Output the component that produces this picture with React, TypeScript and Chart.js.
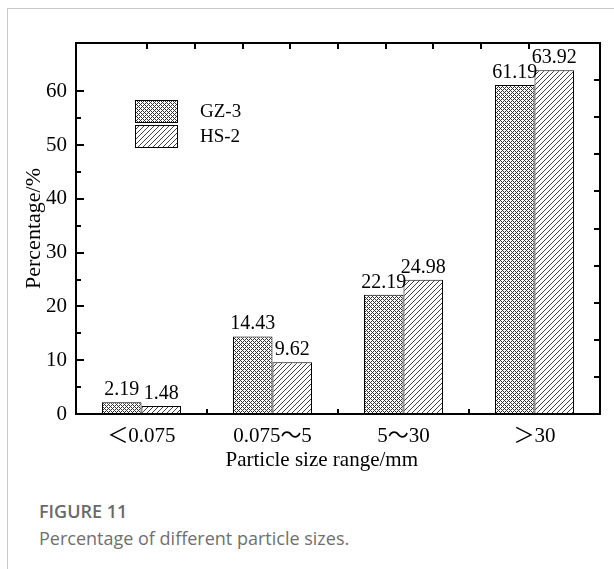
import React, { useEffect, useRef } from 'react';
import { Chart, registerables } from 'chart.js';

Chart.register(...registerables);

const categories = ['＜0.075', '0.075～5', '5～30', '＞30'];
const seriesNames = ['GZ-3', 'HS-2'];
const gz3Values = [2.19, 14.43, 22.19, 61.19];
const hs2Values = [1.48, 9.62, 24.98, 63.92];
const yMin = 0;
const yMax = 69;
const yMinorStep = 5;
const yMajorStep = 10;
const yTitle = 'Percentage/%';
const xTitle = 'Particle size range/mm';
const figureLabel = 'FIGURE 11';
const figureCaption = 'Percentage of different particle sizes.';

const SERIF = '"Liberation Serif", "Times New Roman", "Noto Sans CJK SC", serif';

function makePattern(kind: 'cross' | 'diag'): CanvasPattern | string {
  const size = kind === 'cross' ? 4 : 5;
  const c = document.createElement('canvas');
  c.width = size;
  c.height = size;
  const ctx = c.getContext('2d');
  if (!ctx) return '#888';
  ctx.fillStyle = '#ffffff';
  ctx.fillRect(0, 0, size, size);
  ctx.fillStyle = kind === 'cross' ? '#333333' : '#404040';
  for (let x = 0; x < size; x++) {
    for (let y = 0; y < size; y++) {
      let on = false;
      if (kind === 'cross') {
        on = (x + y) % size === 0 || (x - y + size) % size === 0;
      } else {
        on = (x + y) % size === size - 1;
      }
      if (on) ctx.fillRect(x, y, 1, 1);
    }
  }
  const p = ctx.createPattern(c, 'repeat');
  return p || '#888';
}

const decorPlugin = {
  id: 'decor',
  afterDatasetsDraw(chart: any) {
    const { ctx, chartArea: a, scales } = chart;
    ctx.save();
    ctx.strokeStyle = '#000';
    ctx.lineWidth = 2;
    const line = (x1: number, y1: number, x2: number, y2: number) => {
      ctx.beginPath();
      ctx.moveTo(x1, y1);
      ctx.lineTo(x2, y2);
      ctx.stroke();
    };
    // frame
    ctx.strokeRect(a.left, a.top, a.right - a.left, a.bottom - a.top);
    // left axis ticks (inward)
    const y = scales.y;
    y.ticks.forEach((t: any) => {
      const v = t.value;
      if (v % yMinorStep !== 0 || v === yMin) return;
      const py = Math.round(y.getPixelForValue(v));
      const len = v % yMajorStep === 0 ? 8 : 5;
      line(a.left, py, a.left + len, py);
    });
    // top axis ticks
    const x2 = scales.x2;
    x2.ticks.forEach((t: any) => {
      if (t.value <= x2.min || t.value >= x2.max) return;
      const px = Math.round(x2.getPixelForValue(t.value));
      line(px, a.top, px, a.top + 6);
    });
    // right axis ticks
    const y2 = scales.y2;
    y2.ticks.forEach((t: any) => {
      if (t.value <= y2.min || t.value >= y2.max) return;
      const py = Math.round(y2.getPixelForValue(t.value));
      line(a.right, py, a.right - 6, py);
    });
    // bottom category boundary ticks
    const x = scales.x;
    for (let i = 0; i < categories.length - 1; i++) {
      const px = Math.round((x.getPixelForValue(i) + x.getPixelForValue(i + 1)) / 2);
      line(px, a.bottom, px, a.bottom - 5);
    }
    // value labels
    ctx.fillStyle = '#000';
    ctx.font = '20px ' + SERIF;
    ctx.textAlign = 'center';
    ctx.textBaseline = 'alphabetic';
    chart.data.datasets.forEach((ds: any, di: number) => {
      const meta = chart.getDatasetMeta(di);
      meta.data.forEach((el: any, i: number) => {
        ctx.fillText(Number(ds.data[i]).toFixed(2), el.x, el.y - 7);
      });
    });
    // legend
    ctx.font = '19px ' + SERIF;
    ctx.lineWidth = 1;
    chart.data.datasets.forEach((ds: any, di: number) => {
      const bx = a.left + 59;
      const by = a.top + 57 + di * 25;
      ctx.fillStyle = ds.backgroundColor;
      ctx.fillRect(bx, by, 42, 22);
      ctx.strokeStyle = '#000';
      ctx.strokeRect(bx + 0.5, by + 0.5, 42, 22);
      ctx.fillStyle = '#000';
      ctx.textAlign = 'left';
      ctx.textBaseline = 'middle';
      ctx.fillText(ds.label, a.left + 124, by + 12);
    });
    // x title
    ctx.font = '21px ' + SERIF;
    ctx.textAlign = 'center';
    ctx.textBaseline = 'middle';
    ctx.fillText(xTitle, a.left + (a.right - a.left) * 0.469, a.bottom + 46);
    ctx.restore();
  },
};

function BarChart() {
  const ref = useRef<HTMLCanvasElement | null>(null);
  useEffect(() => {
    if (!ref.current) return;
    const chart = new Chart(ref.current, {
      type: 'bar',
      data: {
        labels: categories,
        datasets: [
          {
            label: seriesNames[0],
            data: gz3Values,
            backgroundColor: makePattern('cross') as any,
            borderColor: '#000',
            borderWidth: 1,
            categoryPercentage: 0.603,
            barPercentage: 1,
            xAxisID: 'x',
            yAxisID: 'y',
          },
          {
            label: seriesNames[1],
            data: hs2Values,
            backgroundColor: makePattern('diag') as any,
            borderColor: '#000',
            borderWidth: 1,
            categoryPercentage: 0.603,
            barPercentage: 1,
            xAxisID: 'x',
            yAxisID: 'y',
          },
        ],
      },
      options: {
        responsive: false,
        animation: false,
        devicePixelRatio: 1,
        layout: { padding: { top: 43, right: 14, left: 0, bottom: 0 } },
        plugins: { legend: { display: false }, tooltip: { enabled: false } },
        scales: {
          x: {
            type: 'category',
            position: 'bottom',
            grid: { display: false, drawTicks: false },
            border: { display: false },
            ticks: {
              color: '#000',
              font: { family: SERIF, size: 21 },
              padding: 10,
              maxRotation: 0,
              autoSkip: false,
            },
            afterFit: (s: any) => {
              s.height = 66;
            },
          },
          y: {
            type: 'linear',
            position: 'left',
            min: yMin,
            max: yMax,
            grid: { display: false, drawTicks: false },
            border: { display: false },
            ticks: {
              stepSize: yMinorStep,
              color: '#000',
              font: { family: SERIF, size: 21 },
              padding: 9,
              callback: (v: any) => (Number(v) % yMajorStep === 0 ? String(v) : ''),
            },
            title: {
              display: true,
              text: yTitle,
              color: '#000',
              font: { family: SERIF, size: 22 },
              padding: { top: 21, bottom: 0 },
            },
            afterFit: (s: any) => {
              s.width = 76;
            },
          },
          x2: {
            type: 'linear',
            position: 'top',
            min: 0,
            max: 10,
            grid: { display: false, drawTicks: false },
            border: { display: false },
            ticks: { display: false, stepSize: 1 },
            afterFit: (s: any) => {
              s.height = 0;
            },
          },
          y2: {
            type: 'linear',
            position: 'right',
            min: 0,
            max: 10,
            grid: { display: false, drawTicks: false },
            border: { display: false },
            ticks: { display: false, stepSize: 1 },
            afterFit: (s: any) => {
              s.width = 0;
            },
          },
        },
      } as any,
      plugins: [decorPlugin],
    });
    return () => chart.destroy();
  }, []);
  return (
    <canvas
      ref={ref}
      width={614}
      height={480}
      style={{ position: 'fixed', left: 0, top: 0, width: 614, height: 480 }}
    />
  );
}

export default function App() {
  return (
    <div>
      <div
        style={{
          position: 'fixed',
          left: 7,
          top: 8,
          width: 700,
          height: 700,
          borderLeft: '1px solid #c8c8c8',
          borderTop: '1px solid #c8c8c8',
          background: '#fff',
        }}
      />
      <BarChart />
      <div
        style={{
          position: 'fixed',
          left: 39,
          top: 499,
          lineHeight: '24px',
          fontFamily: '"Open Sans", "Noto Sans", sans-serif',
          fontSize: 18,
          fontWeight: 600,
          color: '#6a6a6a',
          whiteSpace: 'nowrap',
        }}
      >
        {figureLabel}
      </div>
      <div
        style={{
          position: 'fixed',
          left: 39,
          top: 526,
          lineHeight: '24px',
          fontFamily: '"Open Sans", "Noto Sans", sans-serif',
          fontSize: 18,
          color: '#707070',
          whiteSpace: 'nowrap',
        }}
      >
        {figureCaption}
      </div>
    </div>
  );
}
